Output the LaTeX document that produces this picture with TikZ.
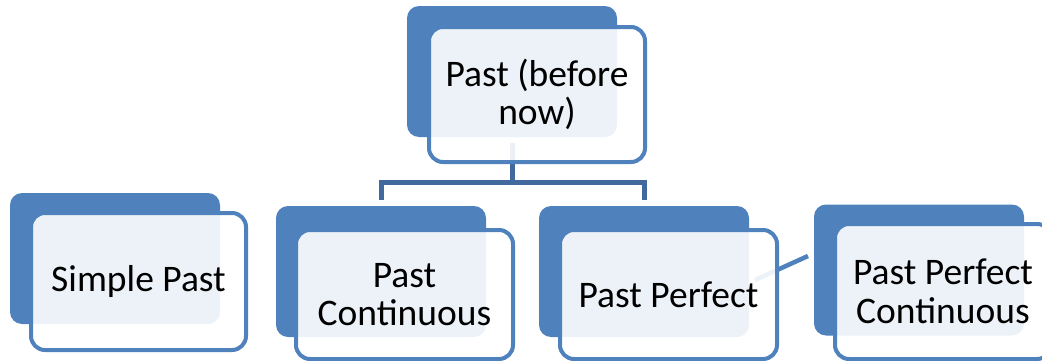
\documentclass[tikz,border=0pt]{standalone}
\usepackage{fontspec}
\setmainfont{Carlito}
\usepackage{xcolor}
\usepackage{tikz}
\definecolor{tenseblue}{rgb}{0.31,0.506,0.741}
\definecolor{treeblue}{rgb}{0.255,0.412,0.62}

\tikzset{
    backbox/.style={rectangle, rounded corners=12pt, fill=tenseblue, inner sep=0pt,
        minimum width=210pt, minimum height=131pt},
    frontbox/.style={rectangle, rounded corners=14pt, draw=tenseblue, line width=4pt,
        fill=white, fill opacity=0.9, text opacity=1, inner sep=0pt, align=center,
        minimum width=216pt, minimum height=135pt,
        font=\fontsize{37.5pt}{38.5pt}\selectfont},
    treeline/.style={draw=treeblue, line width=5pt},
    sideline/.style={draw=tenseblue, line width=4.5pt}
}

\begin{document}
\begin{tikzpicture}[x=1pt,y=1pt]
    \useasboundingbox (0,0) rectangle (1042,360);
    \clip (0,0) rectangle (1042,360);

    % draw back boxes
    \node[backbox] (topback) at (512,288.5) {};
    \node[backbox] (simpleback) at (115,101.5) {};
    \node[backbox] (pcback) at (381,88.5) {};
    \node[backbox] (ppback) at (644,88.5) {};
    \node[backbox] (ppcback) at (919,90) {};

    % draw connectors
    \draw[treeline, shorten <=6pt] (topback.south) -- (512,178) -| ([yshift=6pt]pcback.north);
    \draw[treeline] (512,178) -| ([yshift=6pt]ppback.north);
    \coordinate (ppout) at (755,80);
    \coordinate (ppcin) at (808,104);
    \draw[sideline] (ppout) -- (ppcin);

    % draw front boxes
    \node[frontbox] (topfront) at (537,265.5) {Past (before\\now)};
    \node[frontbox, minimum width=215pt, minimum height=137pt] (simplefront) at (138.5,78.5) {Simple Past};
    \node[frontbox, minimum width=217pt, minimum height=129pt] (pcfront) at (404.5,65.5) {Past\\Continuous};
    \node[frontbox, minimum width=217pt, minimum height=129pt] (ppfront) at (668.5,65.5) {Past Perfect};
    \node[frontbox] (ppcfront) at (943,68.5) {Past Perfect\\Continuous};
\end{tikzpicture}
\end{document}
